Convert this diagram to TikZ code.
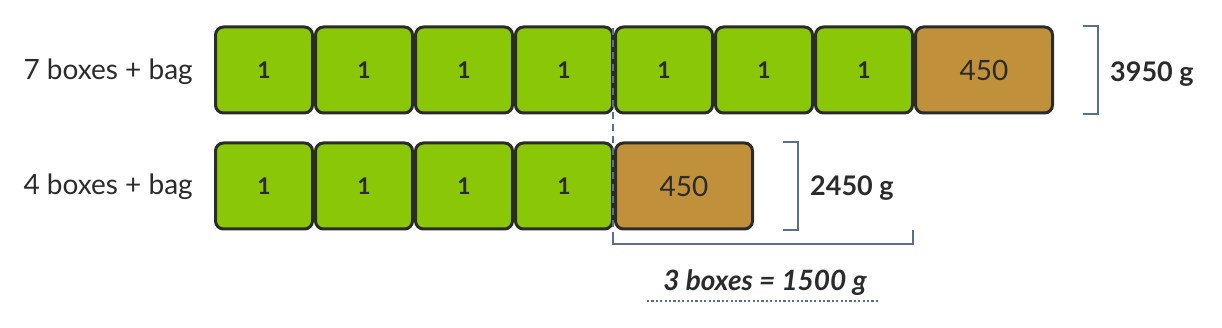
\documentclass[tikz,border=0pt]{standalone}
\usepackage{fontspec}
\setmainfont{Lato}
\begin{document}
\begin{tikzpicture}[x=1pt,y=-1pt,
  unitbox/.style={draw=boxline,line width=3pt,rounded corners=8pt,fill=boxgreen,minimum width=97pt,minimum height=86pt,inner sep=0pt,font=\fontsize{23}{23}\selectfont\bfseries,text=textdark},
  bagbox/.style={draw=boxline,line width=3pt,rounded corners=8pt,fill=baggold,minimum width=137pt,minimum height=86pt,inner sep=0pt,font=\fontsize{28}{28}\selectfont,text=textdark},
  rowlabel/.style={anchor=east,font=\fontsize{28}{28}\selectfont,text=textdark,inner sep=0pt},
  totlabel/.style={anchor=west,font=\fontsize{27}{27}\selectfont\bfseries,text=textdark,inner sep=0pt},
  brack/.style={draw=slate,line width=2pt},
]
\definecolor{boxgreen}{HTML}{8AC707}
\definecolor{baggold}{HTML}{C0913A}
\definecolor{boxline}{HTML}{2B2B2B}
\definecolor{textdark}{HTML}{2B2B2B}
\definecolor{slate}{HTML}{566F94}
\useasboundingbox (0,0) rectangle (1222,328);
% row 1
\foreach \i in {1,...,7}{
  \node[unitbox] (a\i) at ({164+100*\i},70) {1};
}
\node[bagbox] (abag) at (984,70) {450};
% row 2
\foreach \i in {1,...,4}{
  \node[unitbox] (b\i) at ({164+100*\i},186) {1};
}
\node[bagbox] (bbag) at (684,186) {450};
% labels
\node[rowlabel] (l1) at (193,72) {7 boxes + bag};
\node[rowlabel] (l2) at (193,187) {4 boxes + bag};
% brackets
\draw[brack] (1083,26) -- (1098,26) -- (1098,114) -- (1083,114);
\node[totlabel] (t1) at (1110,74) {3950 g};
\draw[brack] (783,142) -- (798,142) -- (798,230) -- (783,230);
\node[totlabel] (t2) at (810,188) {2450 g};
% dashed split line and lower bracket
\coordinate (d0) at (613,28);
\coordinate (d1) at (613,244);
\coordinate (d2) at (913,244);
\coordinate (d3) at (913,230);
\draw[slate,line width=2pt,dash pattern=on 7pt off 5pt] (d0) -- (613,236);
\draw[brack] (613,236) -- (d1) -- (d2) -- (d3);
\node[font=\fontsize{28}{28}\selectfont\bfseries\itshape,text=textdark,inner sep=0pt] (res) at (765,283) {3 boxes = 1500 g};
\draw[slate,line width=2.2pt,dash pattern=on 2.2pt off 2.2pt] (647,301) -- (880,301);
\end{tikzpicture}
\end{document}
